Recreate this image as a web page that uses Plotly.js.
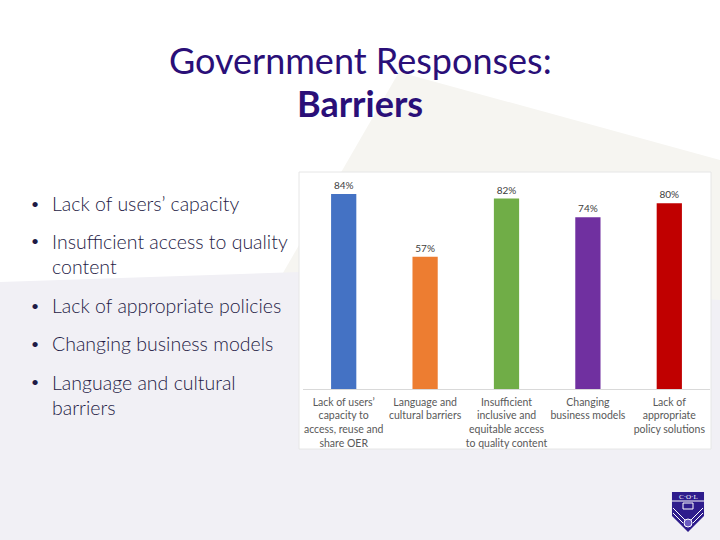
<!DOCTYPE html>
<html>
<head>
<meta charset="utf-8">
<script src="https://cdn.plot.ly/plotly-3.0.1.min.js"></script>
<style>html,body{margin:0;padding:0;background:#fff;}#chart{width:720px;height:540px;}</style>
</head>
<body>
<div id="chart"></div>
<script>
const categories = [
  "Lack of users’<br>capacity to<br>access, reuse and<br>share OER",
  "Language and<br>cultural barriers",
  "Insufficient<br>inclusive and<br>equitable access<br>to quality content",
  "Changing<br>business models",
  "Lack of<br>appropriate<br>policy solutions"
];
const values = [84, 57, 82, 74, 80];
const barColors = ["#4472C4", "#ED7D31", "#70AD47", "#7030A0", "#C00000"];
const bullets = [
  "Lack of users’ capacity",
  "Insufficient access to quality<br>content",
  "Lack of appropriate policies",
  "Changing business models",
  "Language and cultural<br>barriers"
];
const titleLine1 = "Government Responses:";
const titleLine2 = "Barriers";

const W = 720, H = 540;
const px = x => x / W;
const py = y => 1 - y / H;
const pathOf = pts => pts.map((p, i) => (i ? "L" : "M") + px(p[0]).toFixed(4) + "," + py(p[1]).toFixed(4)).join(" ") + " Z";

const shapes = [
  {type: "path", xref: "paper", yref: "paper", layer: "below", line: {width: 0}, fillcolor: "#F6F5F1",
   path: pathOf([[399, 72], [720, 160], [720, 320], [250, 330]])},
  {type: "path", xref: "paper", yref: "paper", layer: "below", line: {width: 0}, fillcolor: "#F1F0F5",
   path: pathOf([[0, 282], [300, 272], [720, 300], [720, 540], [0, 540]])},
  {type: "rect", xref: "paper", yref: "paper", layer: "below", fillcolor: "#FFFFFF", line: {color: "#E6E6E6", width: 1},
   x0: px(299), x1: px(711), y0: py(449), y1: py(172)},
  // logo shield
  {type: "path", xref: "paper", yref: "paper", layer: "above", line: {width: 0}, fillcolor: "#2E1C8C",
   path: pathOf([[672, 492], [704, 492], [704, 516], [688, 532], [672, 516]])},
  {type: "path", xref: "paper", yref: "paper", layer: "above", line: {color: "#FFFFFF", width: 1}, fillcolor: "rgba(0,0,0,0)",
   path: "M" + px(673) + "," + py(508) + " L" + px(685) + "," + py(520) + " M" + px(703) + "," + py(508) + " L" + px(691) + "," + py(520) + " M" + px(673) + "," + py(513) + " L" + px(683) + "," + py(523) + " M" + px(703) + "," + py(513) + " L" + px(693) + "," + py(523)},
  {type: "line", xref: "paper", yref: "paper", layer: "above", line: {color: "#FFFFFF", width: 1},
   x0: px(672), x1: px(704), y0: py(501), y1: py(501)},
  {type: "rect", xref: "paper", yref: "paper", layer: "above", line: {color: "#FFFFFF", width: 1}, fillcolor: "rgba(0,0,0,0)",
   x0: px(683), x1: px(693), y0: py(509), y1: py(503)},
  {type: "circle", xref: "paper", yref: "paper", layer: "above", line: {color: "#FFFFFF", width: 1}, fillcolor: "#6A5BC0",
   x0: px(684), x1: px(692), y0: py(527), y1: py(519)}
];

const ann = (text, x, y, xa, ya, font, extra) => Object.assign({text: text, xref: "paper", yref: "paper",
  x: px(x), y: py(y), xanchor: xa, yanchor: ya, showarrow: false, font: font}, extra || {});

const titleFont = {family: "Lato, Carlito, sans-serif", size: 36, color: "#2A0F78"};
const annotations = [
  ann(titleLine1, 360, 60, "center", "middle", titleFont),
  ann("<b>" + titleLine2 + "</b>", 360, 103, "center", "middle", titleFont),
  ann("C·O·L", 688, 496.5, "center", "middle", {family: "Liberation Serif, serif", size: 7, color: "#FFFFFF"})
];
const bulletY = [203, 253.5, 305, 343, 394.5];
const bulletFont = {family: "Lato, Carlito, sans-serif", size: 19.5, weight: 300, color: "#1E1A45"};
bullets.forEach((b, i) => {
  const first = bulletY[i] - (b.includes("<br>") ? 13.5 : 0);
  annotations.push(ann("•", 35, first, "center", "middle", {family: "Lato, sans-serif", size: 14, color: "#1E1A45"}));
  annotations.push(ann(b, 50, bulletY[i], "left", "middle", bulletFont, {align: "left"}));
});

const trace = {
  type: "bar",
  x: categories,
  y: values,
  marker: {color: barColors},
  texttemplate: "%{y}%",
  textposition: "outside",
  cliponaxis: false,
  textfont: {family: "Lato, Carlito, sans-serif", size: 10, color: "#404040"},
  hoverinfo: "none"
};

const layout = {
  width: W, height: H,
  margin: {l: 0, r: 0, t: 0, b: 0},
  paper_bgcolor: "#FFFFFF",
  plot_bgcolor: "rgba(0,0,0,0)",
  showlegend: false,
  bargap: 0.69,
  xaxis: {
    domain: [px(303), px(710)],
    showline: true, linecolor: "#D9D9D9", linewidth: 1,
    ticks: "", showgrid: false, zeroline: false,
    ticklabelstandoff: 3,
    tickfont: {family: "Lato, Carlito, sans-serif", size: 10.5, color: "#595959"}
  },
  yaxis: {
    domain: [py(389), py(180)],
    range: [0, 90], visible: false, showgrid: false, zeroline: false
  },
  shapes: shapes,
  annotations: annotations
};

Plotly.newPlot("chart", [trace], layout, {displayModeBar: false, staticPlot: true});
</script>
</body>
</html>
